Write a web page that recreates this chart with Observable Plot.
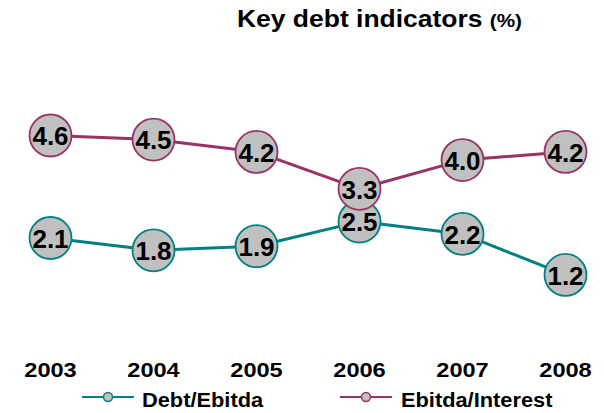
<!DOCTYPE html>
<html><head><meta charset="utf-8">
<script src="https://cdn.jsdelivr.net/npm/d3@7"></script>
<script src="https://cdn.jsdelivr.net/npm/@observablehq/plot@0.6"></script>
<style>
body{margin:0;background:#fff;font-family:"Liberation Sans",Arial,sans-serif;}
#wrap{position:relative;width:604px;height:413px;overflow:hidden;background:#fff}
#title{position:absolute;left:237px;top:7.5px;white-space:nowrap;font-weight:bold;font-size:23px;line-height:23px;transform:scaleX(1.15);transform-origin:0 0;color:#000}
#title span{font-size:18px}
#chart{position:absolute;left:0;top:40px}
.sw{position:absolute;top:389px}
.lt{position:absolute;top:390px;font-size:20px;line-height:20px;font-weight:bold;white-space:nowrap;transform:scaleX(1.09);transform-origin:0 0;color:#000}
</style>
</head><body>
<div id="wrap">
  <div id="title">Key debt indicators <span>(%)</span></div>
  <div id="chart"></div>
  <div id="legend"></div>
</div>
<script>
const years = ["2003", "2004", "2005", "2006", "2007", "2008"];
const debtEbitda = [2.1, 1.8, 1.9, 2.5, 2.2, 1.2];
const ebitdaInterest = [4.6, 4.5, 4.2, 3.3, 4.0, 4.2];
const seriesNames = ["Debt/Ebitda", "Ebitda/Interest"];
const seriesColors = ["#008080", "#993366"];

const seriesValues = [debtEbitda, ebitdaInterest];
const tables = seriesNames.map((name, s) =>
  years.map((year, i) => ({year, value: seriesValues[s][i], series: name}))
);

const marks = [Plot.axisX({tickSize: 0, tickPadding: 39, fontSize: 20, fontWeight: "bold", fill: "#000"})];
tables.forEach((data, s) => {
  const c = seriesColors[s];
  marks.push(Plot.line(data, {x: "year", y: "value", stroke: c, strokeWidth: 3}));
  marks.push(Plot.dot(data, {x: "year", y: "value", r: 21, fill: "#c0c0c0", stroke: c, strokeWidth: 1.8}));
  marks.push(Plot.text(data, {x: "year", y: "value", text: d => d.value.toFixed(1), fontSize: 26, fontWeight: "bold", fill: "#000", dy: 1.5}));
});

const svg = Plot.plot({
  width: 604,
  height: 345,
  marginLeft: 48,
  marginRight: 37,
  marginTop: 78.6,
  marginBottom: 61.4,
  style: {fontFamily: "'Liberation Sans', Arial, sans-serif", background: "#fff", overflow: "visible"},
  x: {type: "point", domain: years, padding: 0, label: null},
  y: {domain: [0, 5], axis: null},
  marks
});
svg.querySelectorAll('g[aria-label="x-axis tick label"] text').forEach(t => {
  t.setAttribute("font-weight", "bold");
  const tr = t.getAttribute("transform");
  if (tr && tr.includes("translate")) t.setAttribute("transform", tr + " scale(1.18,1)");
  else {
    const x = +t.getAttribute("x") || 0;
    t.setAttribute("transform", `translate(${x},0) scale(1.18,1) translate(${-x},0)`);
  }
});
document.getElementById("chart").appendChild(svg);

// legend
const legend = document.getElementById("legend");
const legendPos = [{sw: 82, tx: 142}, {sw: 340, tx: 401}];
seriesNames.forEach((name, s) => {
  const c = seriesColors[s];
  const sw = document.createElement("div");
  sw.className = "sw";
  sw.style.left = legendPos[s].sw + "px";
  sw.innerHTML = `<svg width="52" height="12"><line x1="0" x2="52" y1="6" y2="6" stroke="${c}" stroke-width="2"/><circle cx="26" cy="6" r="4.5" fill="#c0c0c0" stroke="${c}" stroke-width="1.5"/></svg>`;
  legend.appendChild(sw);
  const t = document.createElement("div");
  t.className = "lt";
  t.style.left = legendPos[s].tx + "px";
  t.textContent = name;
  legend.appendChild(t);
});
</script>
</body></html>
